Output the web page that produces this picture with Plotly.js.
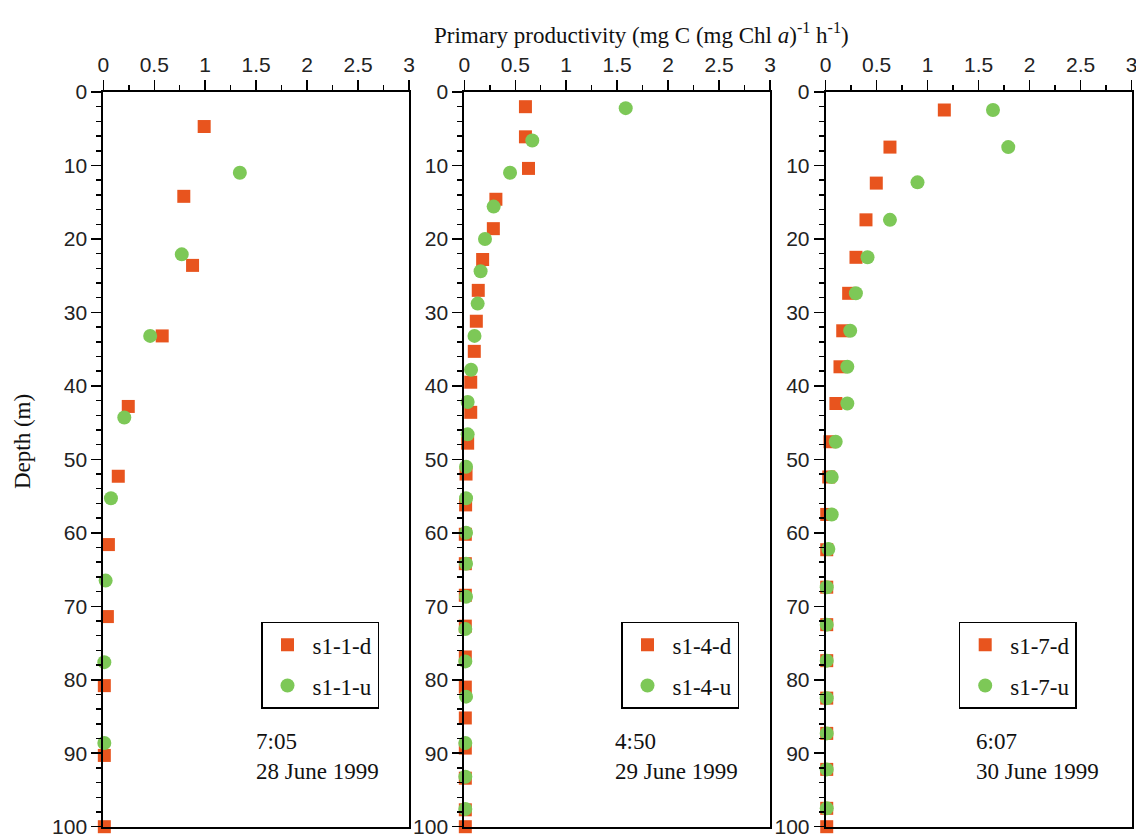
<!DOCTYPE html>
<html>
<head>
<meta charset="utf-8">
<script src="https://cdn.plot.ly/plotly-3.0.1.min.js"></script>
<style>html,body{margin:0;padding:0;background:#fff;}#chart{width:1136px;height:834px;}</style>
</head>
<body>
<div id="chart"></div>
<script>
// ---- Data ----
const d1Depth = [4.7, 14.2, 23.6, 33.2, 42.8, 52.3, 61.6, 71.4, 80.8, 90.3, 100];
const d1Val   = [0.99, 0.79, 0.876, 0.578, 0.245, 0.147, 0.05, 0.04, 0.01, 0.01, 0.01];
const u1Depth = [11.0, 22.1, 33.2, 44.3, 55.3, 66.5, 77.6, 88.6];
const u1Val   = [1.34, 0.77, 0.46, 0.206, 0.075, 0.023, 0.01, 0.01];

const d4Depth = [2.0, 6.1, 10.4, 14.6, 18.6, 22.8, 27.0, 31.2, 35.3, 39.5, 43.6, 47.8, 52.0, 56.2, 60.2, 64.2, 68.5, 72.7, 76.9, 81.0, 85.2, 89.3, 93.4, 97.7, 100];
const d4Val   = [0.60, 0.60, 0.63, 0.31, 0.285, 0.18, 0.137, 0.118, 0.098, 0.063, 0.063, 0.033, 0.017, 0.013, 0.01, 0.01, 0.01, 0.01, 0.01, 0.01, 0.01, 0.01, 0.01, 0.01, 0.01];
const u4Depth = [2.2, 6.6, 11.0, 15.6, 20.0, 24.4, 28.8, 33.2, 37.8, 42.2, 46.6, 51.0, 55.3, 60.0, 64.2, 68.7, 73.1, 77.5, 82.3, 88.6, 93.2, 97.6];
const u4Val   = [1.584, 0.667, 0.449, 0.288, 0.203, 0.16, 0.131, 0.10, 0.066, 0.033, 0.033, 0.017, 0.017, 0.017, 0.017, 0.017, 0.01, 0.01, 0.017, 0.01, 0.01, 0.01];

const d7Depth = [2.45, 7.5, 12.4, 17.4, 22.5, 27.4, 32.5, 37.4, 42.4, 47.6, 52.4, 57.5, 62.3, 67.4, 72.5, 77.4, 82.5, 87.3, 92.2, 97.5, 100];
const d7Val   = [1.163, 0.63, 0.496, 0.395, 0.297, 0.225, 0.167, 0.14, 0.10, 0.042, 0.03, 0.01, 0.01, 0.01, 0.01, 0.01, 0.01, 0.01, 0.01, 0.01, 0.01];
const u7Depth = [2.45, 7.5, 12.3, 17.4, 22.5, 27.4, 32.5, 37.4, 42.4, 47.6, 52.4, 57.5, 62.2, 67.4, 72.5, 77.4, 82.5, 87.3, 92.2, 97.5];
const u7Val   = [1.64, 1.79, 0.90, 0.63, 0.41, 0.296, 0.24, 0.212, 0.212, 0.098, 0.059, 0.059, 0.026, 0.01, 0.01, 0.01, 0.01, 0.01, 0.01, 0.01];

const seriesNames = [["s1-1-d", "s1-1-u"], ["s1-4-d", "s1-4-u"], ["s1-7-d", "s1-7-u"]];
const stamps = ["7:05<br>28 June 1999", "4:50<br>29 June 1999", "6:07<br>30 June 1999"];
const xTickVals = [0, 0.5, 1, 1.5, 2, 2.5, 3];
const yTickVals = [0, 10, 20, 30, 40, 50, 60, 70, 80, 90, 100];

// ---- Styling ----
const W = 1136, H = 834;
const SQ = '#E8541E', CI = '#7DC857';
const serif = 'Liberation Serif, Times New Roman, serif';
const tickFont = {family: 'Liberation Sans, Arial, sans-serif', size: 21, color: '#222'};
const panels = [[103.3, 409], [464.3, 770], [825.7, 1131.7]];
const yTop = 92, yBot = 826.7;

const dPairs = [[d1Val, d1Depth, u1Val, u1Depth], [d4Val, d4Depth, u4Val, u4Depth], [d7Val, d7Depth, u7Val, u7Depth]];
const traces = [];
const layout = {
  width: W, height: H,
  margin: {l: 0, r: 0, t: 0, b: 0},
  paper_bgcolor: '#fff', plot_bgcolor: '#fff',
  showlegend: true,
  annotations: []
};
const legendNames = ['legend', 'legend2', 'legend3'];
const legendX = [261, 621, 958.7];

dPairs.forEach((p, i) => {
  const sfx = i === 0 ? '' : String(i + 1);
  const xa = 'x' + sfx, ya = 'y' + sfx;
  traces.push({
    type: 'scatter', mode: 'markers', x: p[0], y: p[1], xaxis: xa, yaxis: ya,
    name: seriesNames[i][0], legend: legendNames[i], legendgroup: 'g' + i + 'd', cliponaxis: false,
    marker: {symbol: 'square', size: 13, color: SQ}
  });
  traces.push({
    type: 'scatter', mode: 'markers', x: p[2], y: p[3], xaxis: xa, yaxis: ya,
    name: seriesNames[i][1], legend: legendNames[i], legendgroup: 'g' + i + 'u', cliponaxis: false,
    marker: {symbol: 'circle', size: 14, color: CI}
  });
  const common = {
    ticks: 'outside', ticklen: 10, tickwidth: 1.5, tickcolor: '#000',
    showline: true, linecolor: '#000', linewidth: 2, mirror: true,
    showgrid: false, zeroline: false, tickfont: tickFont, fixedrange: true,
    ticklabeloverflow: 'allow'
  };
  layout['xaxis' + sfx] = Object.assign({
    domain: [panels[i][0] / W, panels[i][1] / W], anchor: ya, side: 'top',
    range: [0, 3], tickvals: xTickVals, ticktext: xTickVals.map(String),
    minor: {dtick: 0.25, ticks: 'outside', ticklen: 5, tickwidth: 1.5, tickcolor: '#000'}
  }, common);
  layout['yaxis' + sfx] = Object.assign({
    domain: [1 - yBot / H, 1 - yTop / H], anchor: xa,
    range: [100, 0], tickvals: yTickVals, ticktext: yTickVals.map(String),
    minor: {dtick: 2, ticks: 'outside', ticklen: 5, tickwidth: 1.5, tickcolor: '#000'}
  }, common);
  layout[legendNames[i]] = {
    x: legendX[i] / W, y: 1 - 621.7 / H, xanchor: 'left', yanchor: 'top',
    bgcolor: '#fff', bordercolor: '#000', borderwidth: 1.5,
    font: {family: serif, size: 23, color: '#111'},
    tracegroupgap: 8, itemwidth: 40
  };
  layout.annotations.push({
    xref: 'paper', yref: 'paper', x: [254, 612.7, 974.3][i] / W, y: 1 - 756 / H,
    xanchor: 'left', yanchor: 'middle', align: 'left', showarrow: false,
    text: stamps[i], font: {family: serif, size: 23, color: '#111'}
  });
});

layout.annotations.push({
  xref: 'paper', yref: 'paper', x: 641 / W, y: 1 - 34 / H, xanchor: 'center', yanchor: 'middle',
  showarrow: false, font: {family: serif, size: 23, color: '#111'},
  text: 'Primary productivity (mg C (mg Chl <i>a</i>)<sup>-1</sup> h<sup>-1</sup>)'
});
layout.annotations.push({
  xref: 'paper', yref: 'paper', x: 22 / W, y: 1 - 442 / H, xanchor: 'center', yanchor: 'middle',
  textangle: -90, showarrow: false, font: {family: serif, size: 23, color: '#111'},
  text: 'Depth (m)'
});

Plotly.newPlot('chart', traces, layout, {displayModeBar: false, staticPlot: true});
</script>
</body>
</html>
